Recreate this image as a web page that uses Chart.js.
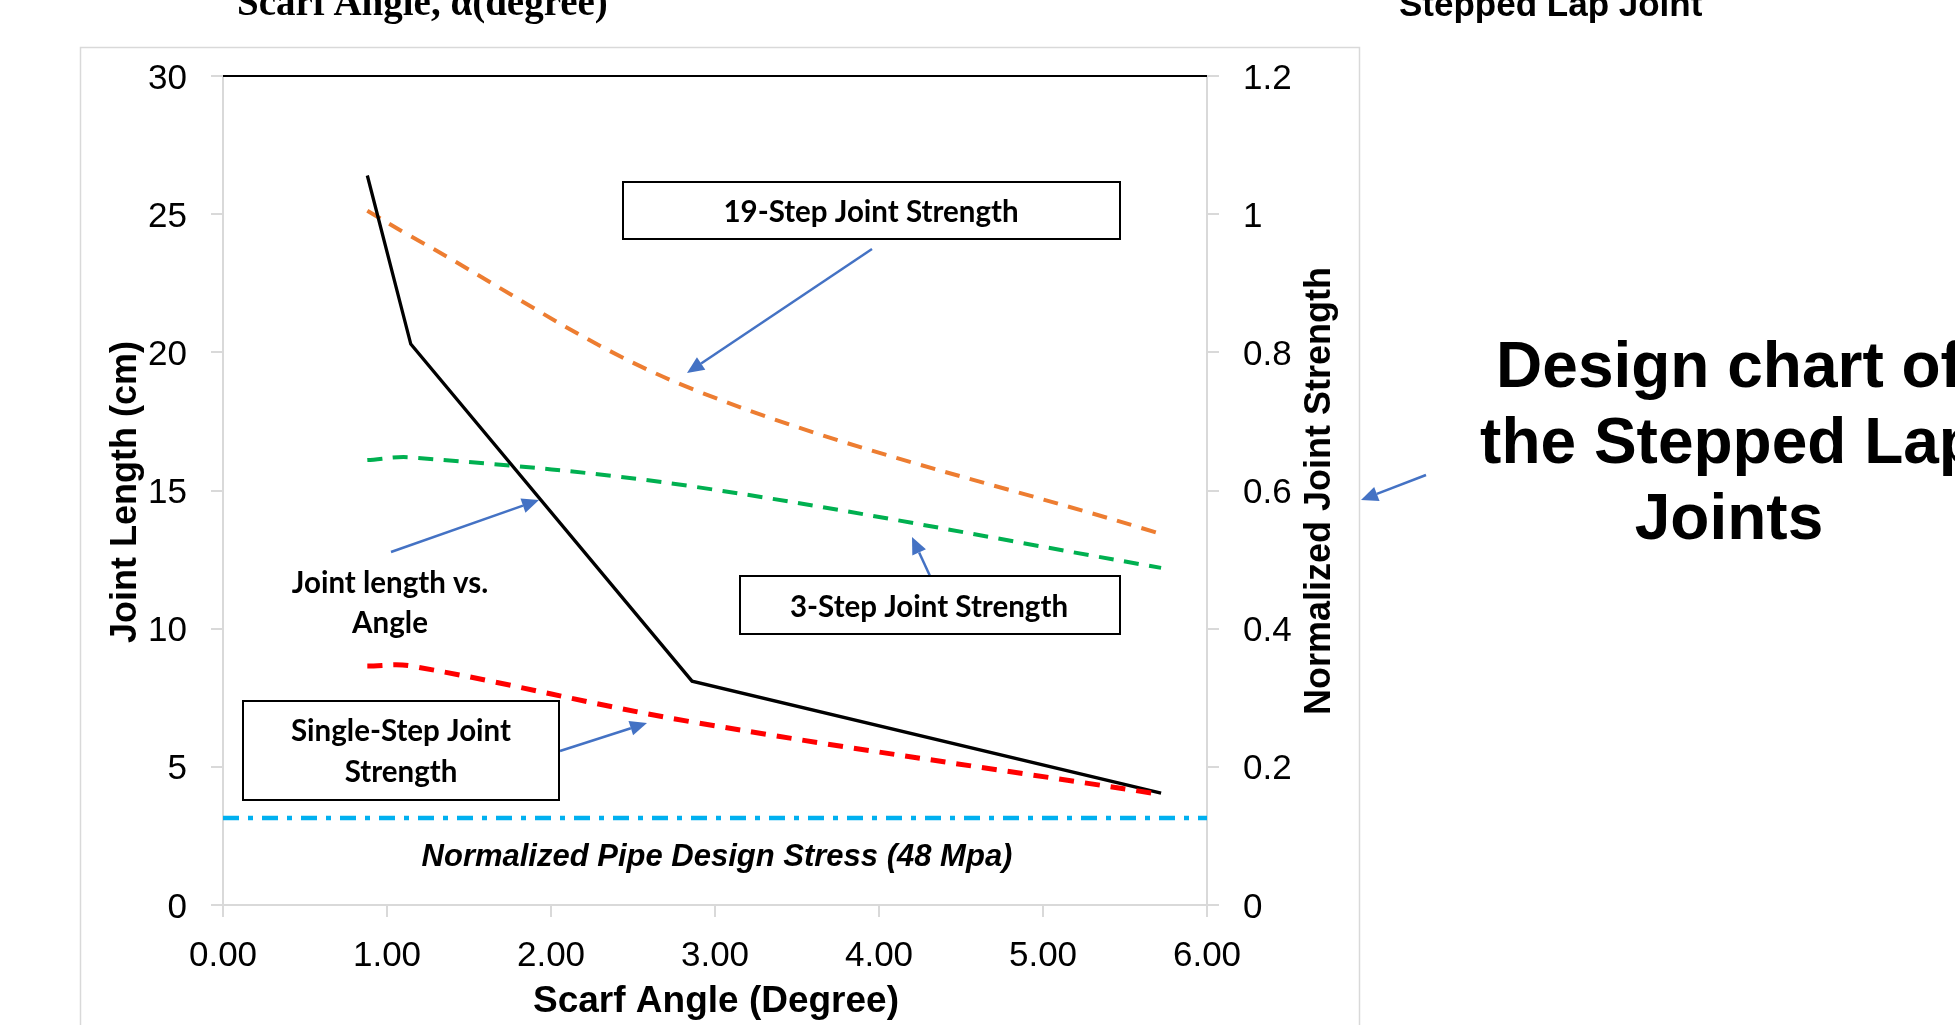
<!DOCTYPE html>
<html>
<head>
<meta charset="utf-8">
<script src="https://cdn.jsdelivr.net/npm/chart.js@4.4.1/dist/chart.umd.min.js"></script>
<style>
html, body { margin: 0; padding: 0; background: #fff; overflow: hidden; }
#wrap { position: relative; width: 1955px; height: 1025px; overflow: hidden; }
#chart { position: absolute; left: 0; top: 0; }
.txt { position: absolute; white-space: nowrap; color: #000; }
#topLeft { left: 237px; top: -18px; font: bold 39px/39px "Liberation Serif", "Times New Roman", serif; }
#topRight { left: 1399px; top: -14px; font: bold 35px/35px "Liberation Sans", Arial, sans-serif; }
#bigTitle { left: 1329px; top: 327px; width: 800px; text-align: center;
  font: bold 64px/76px "Liberation Sans", Arial, sans-serif; }
</style>
</head>
<body>
<div id="wrap">
  <canvas id="chart" width="1955" height="1025"></canvas>
  <div class="txt" id="topLeft">Scarf Angle, α(degree)</div>
  <div class="txt" id="topRight">Stepped Lap Joint</div>
  <div class="txt" id="bigTitle">Design chart of<br>the Stepped Lap<br>Joints</div>
</div>
<script>
// scarf angle (degree) for each joint design
const angles = [0.88, 1.145, 2.86, 5.72];
// joint length (cm), left axis
const jointLength = [26.4, 20.3, 8.1, 4.05];
// normalized joint strength, right axis
const strength19Step = [1.005, 0.968, 0.747, 0.537];
const strength3Step = [0.644, 0.648, 0.606, 0.488];
const strengthSingle = [0.346, 0.346, 0.265, 0.16];
// normalized pipe design stress (48 MPa)
const designStressX = [0, 6];
const designStress = [0.126, 0.126];

const xTicks = [0, 1, 2, 3, 4, 5, 6];
const leftTicks = [0, 5, 10, 15, 20, 25, 30];
const rightTicks = [0, 0.2, 0.4, 0.6, 0.8, 1, 1.2];

const toPoints = (xs, ys) => xs.map((x, i) => ({ x: x, y: ys[i] }));

const tickFont = { family: '"Liberation Sans", Arial, sans-serif', size: 35 };
const axisGray = '#D9D9D9';

// annotation boxes, arrows and labels (pixel layout)
const boxes = [
  { x: 623, y: 182, w: 497, h: 57, lines: ['19-Step Joint Strength'], cx: 871, base: [222] },
  { x: 740, y: 576, w: 380, h: 58, lines: ['3-Step Joint Strength'], cx: 929, base: [617] },
  { x: 243, y: 701, w: 316, h: 99, lines: ['Single-Step Joint', 'Strength'], cx: 401, base: [741, 782] }
];
const arrows = [
  [872, 249, 687, 373],
  [391, 552, 539, 500],
  [930, 576, 912, 537],
  [560, 751, 647, 723],
  [1426, 475, 1361, 500]
];

const annotationPlugin = {
  id: 'annotations',
  beforeDraw(chart) {
    const ctx = chart.ctx;
    ctx.save();
    ctx.fillStyle = '#fff';
    ctx.fillRect(0, 0, chart.width, chart.height);
    ctx.strokeStyle = '#D9D9D9';
    ctx.lineWidth = 1.5;
    ctx.strokeRect(80.5, 47.5, 1279, 1100);
    ctx.restore();
  },
  afterDraw(chart) {
    const ctx = chart.ctx;
    const ca = chart.chartArea;
    ctx.save();

    // top frame line
    ctx.strokeStyle = '#000';
    ctx.lineWidth = 2;
    ctx.beginPath();
    ctx.moveTo(ca.left, ca.top);
    ctx.lineTo(ca.right, ca.top);
    ctx.stroke();

    // axis titles
    ctx.fillStyle = '#000';
    ctx.textAlign = 'center';
    ctx.textBaseline = 'middle';
    ctx.font = 'bold 37px "Liberation Sans", Arial, sans-serif';
    ctx.fillText('Scarf Angle (Degree)', 716, 1002);

    ctx.save();
    ctx.translate(126, 492);
    ctx.rotate(-Math.PI / 2);
    ctx.font = 'bold 36px "Liberation Sans", Arial, sans-serif';
    ctx.fillText('Joint Length (cm)', 0, 0);
    ctx.restore();

    ctx.save();
    ctx.translate(1320, 491);
    ctx.rotate(-Math.PI / 2);
    ctx.font = 'bold 36px "Liberation Sans", Arial, sans-serif';
    ctx.fillText('Normalized Joint Strength', 0, 0);
    ctx.restore();

    // arrows
    ctx.strokeStyle = '#4472C4';
    ctx.fillStyle = '#4472C4';
    ctx.lineWidth = 2.5;
    arrows.forEach(a => {
      const [x1, y1, x2, y2] = a;
      const ang = Math.atan2(y2 - y1, x2 - x1);
      const len = 17, hw = 7.5;
      const bx = x2 - len * Math.cos(ang), by = y2 - len * Math.sin(ang);
      ctx.beginPath();
      ctx.moveTo(x1, y1);
      ctx.lineTo(bx, by);
      ctx.stroke();
      ctx.beginPath();
      ctx.moveTo(x2, y2);
      ctx.lineTo(bx + hw * Math.sin(ang), by - hw * Math.cos(ang));
      ctx.lineTo(bx - hw * Math.sin(ang), by + hw * Math.cos(ang));
      ctx.closePath();
      ctx.fill();
    });

    // text boxes
    ctx.textBaseline = 'alphabetic';
    ctx.font = 'bold 29.5px Lato, "Open Sans", sans-serif';
    boxes.forEach(b => {
      ctx.fillStyle = '#fff';
      ctx.fillRect(b.x, b.y, b.w, b.h);
      ctx.strokeStyle = '#000';
      ctx.lineWidth = 2;
      ctx.strokeRect(b.x, b.y, b.w, b.h);
      ctx.fillStyle = '#000';
      b.lines.forEach((t, i) => ctx.fillText(t, b.cx, b.base[i]));
    });

    // free labels
    ctx.fillStyle = '#000';
    ctx.fillText('Joint length vs.', 390, 593);
    ctx.fillText('Angle', 390, 633);
    ctx.font = 'italic bold 31px "Liberation Sans", Arial, sans-serif';
    ctx.fillText('Normalized Pipe Design Stress (48 Mpa)', 717, 866);

    ctx.restore();
  }
};

new Chart(document.getElementById('chart'), {
  type: 'line',
  data: {
    datasets: [
      {
        label: 'Single-Step Joint Strength',
        data: toPoints(angles, strengthSingle),
        yAxisID: 'y1',
        borderColor: '#FF0000',
        borderWidth: 5,
        borderDash: [15, 11],
        tension: 0.35,
        pointRadius: 0,
        order: 1
      },
      {
        label: 'Joint length vs. Angle',
        data: toPoints(angles, jointLength),
        yAxisID: 'y',
        borderColor: '#000',
        borderWidth: 3.3,
        tension: 0,
        pointRadius: 0,
        order: 2
      },
      {
        label: '3-Step Joint Strength',
        data: toPoints(angles, strength3Step),
        yAxisID: 'y1',
        borderColor: '#00B050',
        borderWidth: 4,
        borderDash: [15, 10.5],
        tension: 0.35,
        pointRadius: 0,
        order: 3
      },
      {
        label: '19-Step Joint Strength',
        data: toPoints(angles, strength19Step),
        yAxisID: 'y1',
        borderColor: '#ED7D31',
        borderWidth: 4,
        borderDash: [15, 10.5],
        tension: 0.35,
        pointRadius: 0,
        order: 4
      },
      {
        label: 'Normalized Pipe Design Stress (48 Mpa)',
        data: toPoints(designStressX, designStress),
        yAxisID: 'y1',
        borderColor: '#00B0F0',
        borderWidth: 4.5,
        borderDash: [16, 9, 5, 9],
        pointRadius: 0,
        order: 5
      }
    ]
  },
  options: {
    responsive: false,
    animation: false,
    devicePixelRatio: 1,
    layout: { padding: { top: 76, left: 0, right: 0, bottom: 0 } },
    plugins: { legend: { display: false }, tooltip: { enabled: false } },
    scales: {
      x: {
        type: 'linear',
        min: 0,
        max: 6,
        afterBuildTicks: s => { s.ticks = xTicks.map(v => ({ value: v })); },
        afterFit: s => { s.height = 120; },
        ticks: { font: tickFont, color: '#000', padding: 18, maxRotation: 0,
                 callback: v => Number(v).toFixed(2) },
        grid: { drawOnChartArea: false, drawTicks: true, tickLength: 12, color: axisGray, lineWidth: 2 },
        border: { display: true, color: axisGray, width: 2 }
      },
      y: {
        position: 'left',
        min: 0,
        max: 30,
        afterBuildTicks: s => { s.ticks = leftTicks.map(v => ({ value: v })); },
        afterFit: s => { s.width = 223; },
        ticks: { font: tickFont, color: '#000', padding: 24, labelOffset: 3 },
        grid: { drawOnChartArea: false, drawTicks: true, tickLength: 12, color: axisGray, lineWidth: 2 },
        border: { display: true, color: axisGray, width: 2 }
      },
      y1: {
        position: 'right',
        min: 0,
        max: 1.2,
        afterBuildTicks: s => { s.ticks = rightTicks.map(v => ({ value: v })); },
        afterFit: s => { s.width = 748; },
        ticks: { font: tickFont, color: '#000', padding: 24, labelOffset: 3,
                 callback: v => String(Math.round(v * 10) / 10) },
        grid: { drawOnChartArea: false, drawTicks: true, tickLength: 12, color: axisGray, lineWidth: 2 },
        border: { display: true, color: axisGray, width: 2 }
      }
    }
  },
  plugins: [annotationPlugin]
});
</script>
</body>
</html>
